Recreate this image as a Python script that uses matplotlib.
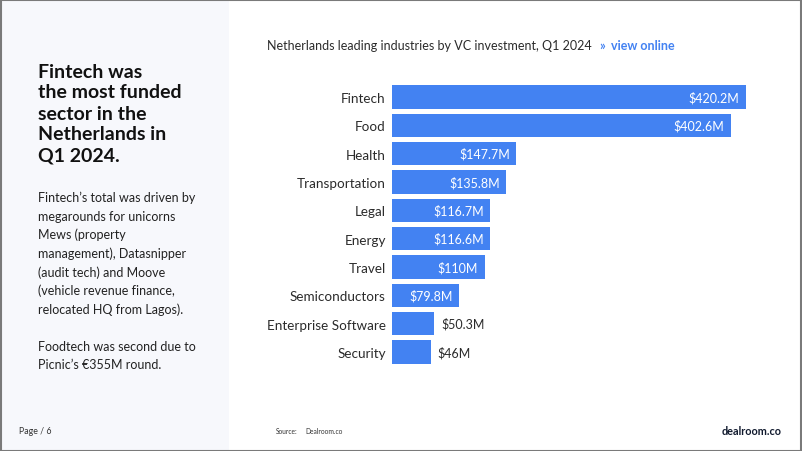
import matplotlib.pyplot as plt
from matplotlib.patches import Rectangle

# data
sectors = ["Fintech", "Food", "Health", "Transportation", "Legal", "Energy",
           "Travel", "Semiconductors", "Enterprise Software", "Security"]
amounts = [420.2, 402.6, 147.7, 135.8, 116.7, 116.6, 110, 79.8, 50.3, 46]
amount_labels = ["$420.2M", "$402.6M", "$147.7M", "$135.8M", "$116.7M", "$116.6M",
                 "$110M", "$79.8M", "$50.3M", "$46M"]

heading = ["Fintech was", "the most funded", "sector in the", "Netherlands in", "Q1 2024."]
body = ["Fintech\u2019s total was driven by", "megarounds for unicorns", "Mews (property",
        "management), Datasnipper", "(audit tech) and Moove", "(vehicle revenue finance,",
        "relocated HQ from Lagos).", "", "Foodtech was second due to",
        "Picnic\u2019s \u20ac355M round."]

plt.rcParams['font.family'] = ['Lato', 'DejaVu Sans']

W, H = 802, 452
BLUE = "#4382f2"
DARK = "#2b2b2b"

fig = plt.figure(figsize=(W / 100, H / 100), dpi=100)
fig.patch.set_facecolor("white")

def px(x, y):
    return x / W, 1 - y / H

# left panel + frame
fig.patches.append(Rectangle((0, 0), 229 / W, 1, transform=fig.transFigure,
                             facecolor="#f7f8fc", edgecolor="none", zorder=0))
fig.patches.append(Rectangle((0.5 / W, 0.5 / H), 1 - 1.5 / W, 1 - 1.5 / H, transform=fig.transFigure,
                             facecolor="none", edgecolor="#7a7a7a", lw=1.5, zorder=5))

# heading
for i, line in enumerate(heading):
    x, y = px(38, 72 + i * 21)
    fig.text(x, y, line, fontsize=14, fontweight="bold", color="#111111", va="center")

# body
for i, line in enumerate(body):
    if line:
        x, y = px(38, 198 + i * 18.6)
        fig.text(x, y, line, fontsize=9.0, color="#222222", va="center")

# chart title, with the link placed right after it
x, y = px(267, 46)
t = fig.text(x, y, "Netherlands leading industries by VC investment, Q1 2024",
             fontsize=9.0, color=DARK, va="center")
fig.canvas.draw()
bb = t.get_window_extent()
x_end = bb.x1 / W
fig.text(x_end + 8 / W, y, "\u00bb", fontsize=9.0, color=BLUE, va="center", fontweight="bold")
fig.text(x_end + 19 / W, y, "view online", fontsize=9.0, color=BLUE, va="center", fontweight="bold")

# bar chart
left_px, right_px = 392, 745.7
top_px, bot_px = 83.8, 367.2
ax = fig.add_axes([left_px / W, 1 - bot_px / H, (right_px - left_px) / W, (bot_px - top_px) / H])
ypos = list(range(len(sectors)))
ax.barh(ypos, amounts, height=0.82, color=BLUE)
ax.set_xlim(0, max(amounts))
ax.set_ylim(len(sectors) - 0.5, -0.5)
ax.set_yticks(ypos)
ax.set_yticklabels(sectors, fontsize=9.7, color=DARK)
ax.tick_params(axis="y", length=0, pad=4.5)
ax.set_xticks([])
for s in ax.spines.values():
    s.set_visible(False)
ax.patch.set_alpha(0)

for yv, v, lab in zip(ypos, amounts, amount_labels):
    if v > 70:
        ax.annotate(lab, (v, yv), xytext=(-4.6, 0), textcoords="offset points",
                    ha="right", va="center", color="white", fontsize=9.0)
    else:
        ax.annotate(lab, (v, yv), xytext=(5, 0), textcoords="offset points",
                    ha="left", va="center", color=DARK, fontsize=9.0)

# footer
x, y = px(19, 432)
fig.text(x, y, "Page / 6", fontsize=6.3, color="#333333", va="center")
x, y = px(276, 432)
fig.text(x, y, "Source:", fontsize=4.8, color="#333333", va="center")
x, y = px(305, 432)
fig.text(x, y, "Dealroom.co", fontsize=4.8, color="#333333", va="center")
x, y = px(782, 432)
fig.text(x, y, "dealroom.co", fontsize=7.8, fontweight="bold", color="#111a2e", va="center", ha="right")

fig.savefig("out.png", dpi=100)
